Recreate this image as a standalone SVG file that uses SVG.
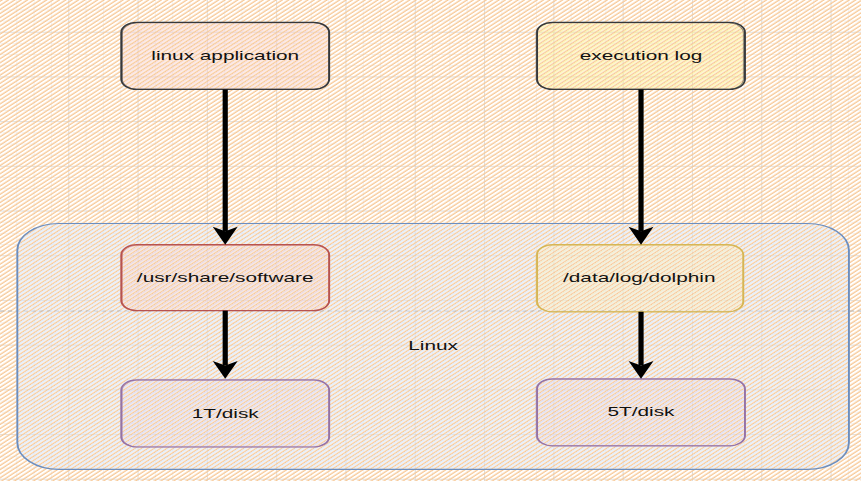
<svg xmlns="http://www.w3.org/2000/svg" width="861" height="481" viewBox="0 0 861 481">
<defs>
<pattern id="gridMinor" patternUnits="userSpaceOnUse" x="-0.6" y="28.4" width="10" height="10">
<line x1="0" y1="0" x2="0" y2="10" stroke="#e8e8e8" stroke-width="0.6"/>
<line x1="0" y1="0" x2="10" y2="0" stroke="#e8e8e8" stroke-width="0.9"/>
</pattern>
<pattern id="gridMajor" patternUnits="userSpaceOnUse" x="-0.6" y="28.4" width="40" height="40">
<line x1="0" y1="0" x2="0" y2="40" stroke="#cfcfcf" stroke-width="0.7"/>
<line x1="0" y1="0" x2="40" y2="0" stroke="#cfcfcf" stroke-width="1"/>
</pattern>
<pattern id="hOr" patternUnits="userSpaceOnUse" width="8" height="2.6" patternTransform="rotate(-45)">
<rect x="0" y="0.3" width="8" height="1.0" fill="#f8c997"/>
</pattern>
<pattern id="hPink" patternUnits="userSpaceOnUse" width="8" height="2.6" patternTransform="rotate(-45)">
<rect x="0" y="1.5" width="8" height="0.7" fill="#f7d0cc"/>
</pattern>
<pattern id="hYel" patternUnits="userSpaceOnUse" width="8" height="2.6" patternTransform="rotate(-45)">
<rect x="0" y="1.5" width="8" height="0.7" fill="#fcee8c"/>
</pattern>
<pattern id="hLtYel" patternUnits="userSpaceOnUse" width="8" height="2.6" patternTransform="rotate(-45)">
<rect x="0" y="1.5" width="8" height="0.7" fill="#fdeeb8"/>
</pattern>
<pattern id="hPur" patternUnits="userSpaceOnUse" width="8" height="2.6" patternTransform="rotate(-45)">
<rect x="0" y="1.5" width="8" height="0.7" fill="#e2d8ec"/>
</pattern>
<pattern id="hBlue" patternUnits="userSpaceOnUse" width="8" height="2.6" patternTransform="rotate(-45)">
<rect x="0" y="1.4" width="8" height="0.9" fill="#dce8fa"/>
</pattern>
</defs>
<style>
.lbl{font-family:"Liberation Sans",Arial,Helvetica,sans-serif;font-size:12px;fill:#111;text-anchor:middle;dominant-baseline:central}
.box{stroke-width:1.1}
.sk{fill:none;stroke-width:0.6;opacity:0.55}
.edge{stroke:#000;stroke-width:3;fill:none}
.head{fill:#000;stroke:none}
</style>
<rect x="0" y="0" width="861" height="481" fill="#ffffff"/>
<g transform="scale(1.7325 1.1175)">
<rect x="-1" y="-1" width="500" height="433" fill="url(#gridMinor)"/>
<rect x="-1" y="-1" width="500" height="433" fill="url(#gridMajor)"/>
<rect x="-1" y="-1" width="500" height="433" fill="url(#hOr)"/>
<line x1="0" y1="278.3" x2="497" y2="278.3" stroke="#b8b8b8" stroke-width="0.8" stroke-dasharray="2.5 2"/>

<g id="linux-container">
<rect x="10" y="200" width="480" height="220" rx="24" ry="24" fill="url(#hBlue)" stroke="#6c8ebf" stroke-width="1.1"/>
<text class="lbl" x="250" y="309">Linux</text>
</g>

<g id="linux-application">
<rect class="box" x="70" y="20" width="120" height="60" rx="9" ry="9" fill="url(#hPink)" stroke="#36393d"/>
<rect class="sk" x="70.6" y="20.5" width="119.2" height="59.2" rx="9" ry="9" stroke="#36393d"/>
<text class="lbl" x="130" y="49.5">linux application</text>
</g>

<g id="execution-log">
<rect class="box" x="310" y="20" width="120" height="60" rx="9" ry="9" fill="url(#hYel)" stroke="#36393d"/>
<rect class="sk" x="309.5" y="20.6" width="119.6" height="59.2" rx="9" ry="9" stroke="#36393d"/>
<text class="lbl" x="370" y="49.5">execution log</text>
</g>

<g id="usr-share-software">
<rect class="box" x="70" y="219" width="120" height="59" rx="9" ry="9" fill="url(#hPink)" stroke="#b85450"/>
<rect class="sk" x="70.5" y="219.6" width="119.4" height="58.4" rx="9" ry="9" stroke="#b85450"/>
<text class="lbl" x="130" y="248.5">/usr/share/software</text>
</g>

<g id="data-log-dolphin">
<rect class="box" x="310" y="219" width="119" height="60" rx="9" ry="9" fill="url(#hLtYel)" stroke="#d6b656"/>
<rect class="sk" x="309.5" y="219.5" width="119.6" height="59.4" rx="9" ry="9" stroke="#d6b656"/>
<text class="lbl" x="369" y="248.5">/data/log/dolphin</text>
</g>

<g id="disk-1t">
<rect class="box" x="70" y="340" width="120" height="60" rx="9" ry="9" fill="url(#hPur)" stroke="#9673a6"/>
<rect class="sk" x="70.5" y="340.5" width="119.4" height="59.4" rx="9" ry="9" stroke="#9673a6"/>
<text class="lbl" x="130" y="369.5">1T/disk</text>
</g>

<g id="disk-5t">
<rect class="box" x="310" y="339" width="120" height="60" rx="9" ry="9" fill="url(#hPur)" stroke="#9673a6"/>
<rect class="sk" x="309.5" y="339.5" width="120.4" height="59.4" rx="9" ry="9" stroke="#9673a6"/>
<text class="lbl" x="370" y="368.5">5T/disk</text>
</g>

<g id="connectors">
<line class="edge" x1="130" y1="80" x2="130" y2="207"/>
<path class="head" d="M130,219 L122.8,203 L130,207 L137.2,203 Z"/>
<line class="edge" x1="370" y1="80" x2="370" y2="207"/>
<path class="head" d="M370,219 L362.8,203 L370,207 L377.2,203 Z"/>
<line class="edge" x1="130" y1="278" x2="130" y2="327"/>
<path class="head" d="M130,339 L122.8,323 L130,327 L137.2,323 Z"/>
<line class="edge" x1="370" y1="279" x2="370" y2="327"/>
<path class="head" d="M370,339 L362.8,323 L370,327 L377.2,323 Z"/>
</g>
</g>
</svg>
